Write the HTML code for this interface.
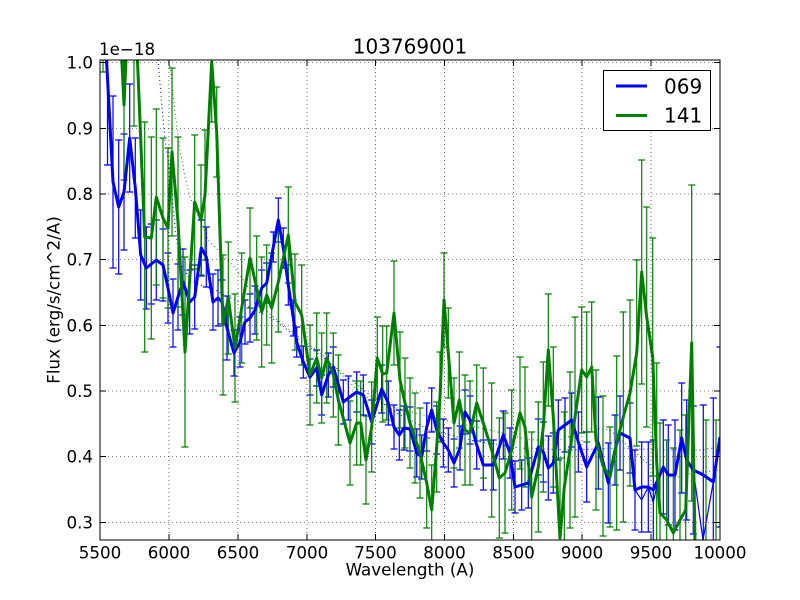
<!DOCTYPE html>
<html>
<head>
<meta charset="utf-8">
<style>
html,body{margin:0;padding:0;background:#fff;width:800px;height:600px;overflow:hidden;}
svg{display:block;overflow:hidden;}
text{font-family:"DejaVu Sans","Liberation Sans",sans-serif;fill:#000;}
</style>
</head>
<body>
<svg width="800" height="600" viewBox="0 0 800 600" xmlns="http://www.w3.org/2000/svg">
<defs>
<clipPath id="ax"><rect x="100" y="60" width="620" height="480"/></clipPath>
</defs>
<rect x="0" y="0" width="800" height="600" fill="#fff"/>
<rect x="100" y="60" width="620" height="480" fill="#fff"/>

<g clip-path="url(#ax)">
<polyline fill="none" stroke="#0000ff" stroke-width="1" stroke-dasharray="1,3" points="158,60 162,107 165,140 170,173 175,227 180,262 190,280 200,285 215,290 235,300 255,310 275,320 300,340 320,355 345,375 370,395 400,415 430,430 470,440 520,448 570,450 620,448 660,450 700,450 720,447"/>
<polyline fill="none" stroke="#008000" stroke-width="1" stroke-dasharray="1,3" points="170,66 175,112 180,150 185,177 190,197 200,220 208,240 223,255 235,268 250,290 265,310 280,322 300,338 323,355 350,383 370,400 397,408 415,413 452,422 490,430 530,440 560,440 592,428 610,430 647,463 673,478 693,473 720,470"/>

<path fill="none" stroke="#0000ff" stroke-width="1.2" d="M107.5,0V165M104,0h7M104,165h7M113,96V268M109.5,96h7M109.5,268h7M118.7,140V274M115.2,140h7M115.2,274h7M124,134V250M120.5,134h7M120.5,250h7M129.7,84V192M126.2,84h7M126.2,192h7M135.3,138V238M131.8,138h7M131.8,238h7M140.7,210V300M137.2,210h7M137.2,300h7M146.3,227V309M142.8,227h7M142.8,309h7M151.3,224V304M147.8,224h7M147.8,304h7M156.3,220V300M152.8,220h7M152.8,300h7M163,229V301M159.5,229h7M159.5,301h7M168,253V323M164.5,253h7M164.5,323h7M173,279V347M169.5,279h7M169.5,347h7M178,264V330M174.5,264h7M174.5,330h7M183,249V315M179.5,249h7M179.5,315h7M189.7,270V334M186.2,270h7M186.2,334h7M194.7,265V329M191.2,265h7M191.2,329h7M201.3,220V276M197.8,220h7M197.8,276h7M206.3,227V287M202.8,227h7M202.8,287h7M213,274V330M209.5,274h7M209.5,330h7M218,270V326M214.5,270h7M214.5,326h7M222,280V324M218.5,280h7M218.5,324h7M227,296V360M223.5,296h7M223.5,360h7M234,330V376M230.5,330h7M230.5,376h7M240,317V367M236.5,317h7M236.5,367h7M245,300V344M241.5,300h7M241.5,344h7M250,294V342M246.5,294h7M246.5,342h7M255,286V334M251.5,286h7M251.5,334h7M261.7,270V306M258.2,270h7M258.2,306h7M266.7,263V303M263.2,263h7M263.2,303h7M273.3,232V262M269.8,232h7M269.8,262h7M278.3,198V242M274.8,198h7M274.8,242h7M283.3,228V268M279.8,228h7M279.8,268h7M288.3,265V305M284.8,265h7M284.8,305h7M293.3,300V336M289.8,300h7M289.8,336h7M296.7,327V357M293.2,327h7M293.2,357h7M303.3,346V378M299.8,346h7M299.8,378h7M310,359V395M306.5,359h7M306.5,395h7M316.7,350V386M313.2,350h7M313.2,386h7M321.7,375V415M318.2,375h7M318.2,415h7M328.3,353V397M324.8,353h7M324.8,397h7M333.3,347V387M329.8,347h7M329.8,387h7M343.3,380V424M339.8,380h7M339.8,424h7M348.3,376V420M344.8,376h7M344.8,420h7M356.7,372V412M353.2,372h7M353.2,412h7M363.3,375V415M359.8,375h7M359.8,415h7M371.7,400V444M368.2,400h7M368.2,444h7M381.7,365V413M378.2,365h7M378.2,413h7M388.3,381V425M384.8,381h7M384.8,425h7M394,405V449M390.5,405h7M390.5,449h7M399.3,410V460M395.8,410h7M395.8,460h7M404,406V450M400.5,406h7M400.5,450h7M410,407V451M406.5,407h7M406.5,451h7M416.7,429V477M413.2,429h7M413.2,477h7M421.7,435V479M418.2,435h7M418.2,479h7M426.7,403V451M423.2,403h7M423.2,451h7M431.7,388V432M428.2,388h7M428.2,432h7M436.7,406V454M433.2,406h7M433.2,454h7M443.3,419V467M439.8,419h7M439.8,467h7M448.3,428V472M444.8,428h7M444.8,472h7M454,439V487M450.5,439h7M450.5,487h7M460,426V470M456.5,426h7M456.5,470h7M465,390V434M461.5,390h7M461.5,434h7M470,396V444M466.5,396h7M466.5,444h7M476.7,421V469M473.2,421h7M473.2,469h7M483.3,440V490M479.8,440h7M479.8,490h7M493.3,440V490M489.8,440h7M489.8,490h7M503.3,411V459M499.8,411h7M499.8,459h7M510,428V478M506.5,428h7M506.5,478h7M515,461V513M511.5,461h7M511.5,513h7M521.7,460V510M518.2,460h7M518.2,510h7M528.3,458V508M524.8,458h7M524.8,508h7M538.3,419V475M534.8,419h7M534.8,475h7M543.3,422V482M539.8,422h7M539.8,482h7M548.3,436V500M544.8,436h7M544.8,500h7M553.3,433V493M549.8,433h7M549.8,493h7M558.3,400V460M554.8,400h7M554.8,460h7M565,398V452M561.5,398h7M561.5,452h7M571.7,393V447M568.2,393h7M568.2,447h7M578.3,412V472M574.8,412h7M574.8,472h7M586.7,432V502M583.2,432h7M583.2,502h7M598.3,397V489M594.8,397h7M594.8,489h7M608.3,443V523M604.8,443h7M604.8,523h7M615,415V485M611.5,415h7M611.5,485h7M620,396V470M616.5,396h7M616.5,470h7M630,403V473M626.5,403h7M626.5,473h7M635,450V530M631.5,450h7M631.5,530h7M641.7,442V532M638.2,442h7M638.2,532h7M648.3,442V532M644.8,442h7M644.8,532h7M653.3,440V540M649.8,440h7M649.8,540h7M663.3,420V514M659.8,420h7M659.8,514h7M668.3,425V525M664.8,425h7M664.8,525h7M675,420V530M671.5,420h7M671.5,530h7M681.7,383V493M678.2,383h7M678.2,493h7M686.7,400V520M683.2,400h7M683.2,520h7M693.3,406V534M689.8,406h7M689.8,534h7M703.3,405V545M699.8,405h7M699.8,545h7M713.3,398V560M709.8,398h7M709.8,560h7M720,347V527M716.5,347h7M716.5,527h7"/>

<path fill="none" stroke="#008000" stroke-width="1.2" d="M103,0V72M99.5,72h7M124,30V180M120.5,30h7M120.5,180h7M134,0V126M130.5,126h7M144.7,122V352M141.2,122h7M141.2,352h7M151.3,137V339M147.8,137h7M147.8,339h7M156.3,109V285M152.8,109h7M152.8,285h7M163,138V298M159.5,138h7M159.5,298h7M168,148V308M164.5,148h7M164.5,308h7M172,68V236M168.5,68h7M168.5,236h7M178,137V307M174.5,137h7M174.5,307h7M185,257V447M181.5,257h7M181.5,447h7M194.7,135V269M191.2,135h7M191.2,269h7M201,165V275M197.5,165h7M197.5,275h7M205,130V260M201.5,130h7M201.5,260h7M211.7,2V122M208.2,2h7M208.2,122h7M216.7,87V177M213.2,87h7M213.2,177h7M223,255V395M219.5,255h7M219.5,395h7M228.3,242V354M224.8,242h7M224.8,354h7M235,294V402M231.5,294h7M231.5,402h7M241.7,253V363M238.2,253h7M238.2,363h7M250,208V308M246.5,208h7M246.5,308h7M256.7,236V340M253.2,236h7M253.2,340h7M261.7,257V367M258.2,257h7M258.2,367h7M266.7,245V345M263.2,245h7M263.2,345h7M271.7,253V363M268.2,253h7M268.2,363h7M278.3,232V332M274.8,232h7M274.8,332h7M288.3,187V283M284.8,187h7M284.8,283h7M295,254V350M291.5,254h7M291.5,350h7M301.7,265V365M298.2,265h7M298.2,365h7M310,325V425M306.5,325h7M306.5,425h7M316.7,313V403M313.2,313h7M313.2,403h7M321.7,333V423M318.2,333h7M318.2,423h7M326.7,313V403M323.2,313h7M323.2,403h7M333.3,333V417M329.8,333h7M329.8,417h7M338.3,355V445M334.8,355h7M334.8,445h7M350,401V485M346.5,401h7M346.5,485h7M356.7,381V465M353.2,381h7M353.2,465h7M360.7,381V465M357.2,381h7M357.2,465h7M366,416V504M362.5,416h7M362.5,504h7M371.7,382V472M368.2,382h7M368.2,472h7M377.3,317V399M373.8,317h7M373.8,399h7M382.7,326V422M379.2,326h7M379.2,422h7M386.7,326V420M383.2,326h7M383.2,420h7M394,261V365M390.5,261h7M390.5,365h7M400,332V428M396.5,332h7M396.5,428h7M405,358V448M401.5,358h7M401.5,448h7M410,378V468M406.5,378h7M406.5,468h7M415,393V483M411.5,393h7M411.5,483h7M420,408V498M416.5,408h7M416.5,498h7M426.7,438V528M423.2,438h7M423.2,528h7M431.7,465V555M428.2,465h7M428.2,555h7M436.7,402V492M433.2,402h7M433.2,492h7M440,352V442M436.5,352h7M436.5,442h7M444,253V347M440.5,253h7M440.5,347h7M448.3,308V398M444.8,308h7M444.8,398h7M454,378V468M450.5,378h7M450.5,468h7M459.3,352V448M455.8,352h7M455.8,448h7M465,375V485M461.5,375h7M461.5,485h7M470,381V485M466.5,381h7M466.5,485h7M476.7,365V441M473.2,365h7M473.2,441h7M483.3,368V478M479.8,368h7M479.8,478h7M491.7,383V517M488.2,383h7M488.2,517h7M499.3,418V538M495.8,418h7M495.8,538h7M505,413V533M501.5,413h7M501.5,533h7M511.7,390V510M508.2,390h7M508.2,510h7M520,357V469M516.5,357h7M516.5,469h7M525,367V487M521.5,367h7M521.5,487h7M531.7,432V560M528.2,432h7M538.3,402V532M534.8,402h7M534.8,532h7M543.3,362V492M539.8,362h7M539.8,492h7M548.3,294V406M544.8,294h7M544.8,406h7M553.3,347V487M549.8,347h7M549.8,487h7M560,458V560M556.5,458h7M564.3,412V560M560.8,412h7M570,372V528M566.5,372h7M566.5,528h7M575,317V517M571.5,317h7M571.5,517h7M581.7,307V433M578.2,307h7M578.2,433h7M586.7,312V442M583.2,312h7M583.2,442h7M591.7,302V432M588.2,302h7M588.2,432h7M596,370V510M592.5,370h7M592.5,510h7M603,396V536M599.5,396h7M599.5,536h7M610,427V527M606.5,427h7M606.5,527h7M616.7,356V530M613.2,356h7M613.2,530h7M623.3,312V522M619.8,312h7M619.8,522h7M630,300V486M626.5,300h7M626.5,486h7M636.7,260V446M633.2,260h7M633.2,446h7M641.7,160V384M638.2,160h7M638.2,384h7M646.7,207V427M643.2,207h7M643.2,427h7M652.7,238V476M649.2,238h7M649.2,476h7M656.7,363V560M653.2,363h7M660,423V560M656.5,423h7M666.7,440V560M663.2,440h7M673.3,448V560M669.8,448h7M680,430V560M676.5,430h7M685.7,415V560M682.2,415h7M691.7,185V501M688.2,185h7M688.2,501h7M706,420V560M702.5,420h7M716,420V560M712.5,420h7"/>

<polyline fill="none" stroke="#0000ff" stroke-width="1.2" points="635,490 641.7,500 648.3,487 653.3,502 659,477"/>
<polyline fill="none" stroke="#0000ff" stroke-width="1.2" points="693.3,470 703,540 713.3,482"/>

<path fill="none" stroke="#0000ff" stroke-width="3" stroke-linejoin="round" d="M103.2,0 L107.5,78 L113,182 L118.7,207 L124,192 L129.7,138 L135.3,188 L140.7,255 L146.3,268 L151.3,264 L156.3,260 L163,265 L168,288 L173,313 L178,297 L183,282 L189.7,302 L194.7,297 L201.3,248 L206.3,257 L213,302 L218,298 L222,302 L227,328 L234,353 L240,342 L245,322 L250,318 L255,310 L261.7,288 L266.7,283 L273.3,247 L278.3,220 L283.3,248 L288.3,285 L293.3,318 L296.7,342 L303.3,362 L310,377 L316.7,368 L321.7,395 L328.3,375 L333.3,367 L343.3,402 L348.3,398 L356.7,392 L363.3,395 L371.7,422 L381.7,389 L388.3,403 L394,427 L399.3,435 L404,428 L410,429 L416.7,453 L421.7,457 L426.7,427 L431.7,410 L436.7,430 L443.3,443 L448.3,450 L454,463 L460,448 L465,412 L470,420 L476.7,445 L483.3,465 L493.3,465 L503.3,435 L510,453 L515,487 L521.7,485 L528.3,483 L538.3,447 L543.3,452 L548.3,468 L553.3,463 L558.3,430 L565,425 L571.7,420 L578.3,442 L586.7,467 L598.3,443 L608.3,483 L615,450 L620,433 L630,438 L635,490 L641.7,487 L648.3,487 L653.3,490 L663.3,467 L668.3,475 L675,475 L681.7,438 L686.7,460 L693.3,470 L703.3,475 L713.3,482 L720,437"/>

<path fill="none" stroke="#008000" stroke-width="3" stroke-linejoin="round" d="M100.5,0 L118.96,0 L124,105 L128.67,0 L135.02,0 L144.7,237 L151.3,238 L156.3,197 L163,218 L168,228 L172,152 L178,222 L185,352 L194.7,202 L201,220 L205,195 L211.7,62 L216.7,132 L223,325 L228.3,298 L235,348 L241.7,308 L250,258 L256.7,288 L261.7,312 L266.7,295 L271.7,308 L278.3,282 L288.3,235 L295,302 L301.7,315 L310,375 L316.7,358 L321.7,378 L326.7,358 L333.3,375 L338.3,400 L350,443 L356.7,423 L360.7,423 L366,460 L371.7,427 L377.3,358 L382.7,374 L386.7,373 L394,313 L400,380 L405,403 L410,423 L415,438 L420,453 L426.7,483 L431.7,510 L436.7,447 L440,397 L444,300 L448.3,353 L454,423 L459.3,400 L465,430 L470,433 L476.7,403 L483.3,423 L491.7,450 L499.3,478 L505,473 L511.7,450 L520,413 L525,427 L531.7,497 L538.3,467 L543.3,427 L548.3,350 L553.3,417 L560,538 L564.3,487 L570,450 L575,417 L581.7,370 L586.7,377 L591.7,367 L596,440 L603,466 L610,477 L616.7,443 L623.3,417 L630,393 L636.7,353 L641.7,272 L646.7,317 L652.7,357 L656.7,463 L660,513 L666.7,520 L673.3,533 L680,520 L685.7,510 L691.7,343 L695.3,560 L720,560"/>
</g>

<g stroke="#000" stroke-width="0.6" stroke-dasharray="1,3" fill="none">
<path d="M169,60V540M238,60V540M307,60V540M375.5,60V540M444.5,60V540M513.5,60V540M582,60V540M651,60V540"/>
<path d="M100,62.5H720M100,128.5H720M100,194H720M100,259.5H720M100,325.5H720M100,391H720M100,456.5H720M100,522.5H720"/>
</g>

<rect x="100" y="60" width="620" height="480" fill="none" stroke="#000" stroke-width="1"/>

<g stroke="#000" stroke-width="1" fill="none">
<path d="M100,540v-6M169,540v-6M238,540v-6M307,540v-6M375.5,540v-6M444.5,540v-6M513.5,540v-6M582,540v-6M651,540v-6M720,540v-6"/>
<path d="M100,60v6M169,60v6M238,60v6M307,60v6M375.5,60v6M444.5,60v6M513.5,60v6M582,60v6M651,60v6M720,60v6"/>
<path d="M100,62.5h6M100,128.5h6M100,194h6M100,259.5h6M100,325.5h6M100,391h6M100,456.5h6M100,522.5h6"/>
<path d="M720,62.5h-6M720,128.5h-6M720,194h-6M720,259.5h-6M720,325.5h-6M720,391h-6M720,456.5h-6M720,522.5h-6"/>
</g>

<g font-size="16.7" text-anchor="middle">
<text x="100" y="558.5">5500</text>
<text x="169" y="558.5">6000</text>
<text x="238" y="558.5">6500</text>
<text x="307" y="558.5">7000</text>
<text x="375.5" y="558.5">7500</text>
<text x="444.5" y="558.5">8000</text>
<text x="513.5" y="558.5">8500</text>
<text x="582" y="558.5">9000</text>
<text x="651" y="558.5">9500</text>
<text x="720" y="558.5">10000</text>
</g>

<g font-size="16.7" text-anchor="end">
<text x="93" y="68.5">1.0</text>
<text x="93" y="134.5">0.9</text>
<text x="93" y="200">0.8</text>
<text x="93" y="265.5">0.7</text>
<text x="93" y="331.5">0.6</text>
<text x="93" y="397">0.5</text>
<text x="93" y="462.5">0.4</text>
<text x="93" y="528.5">0.3</text>
</g>

<text x="99" y="55" font-size="16.7">1e−18</text>
<text x="410" y="53.3" font-size="20" text-anchor="middle">103769001</text>
<text x="410" y="575.5" font-size="16.7" text-anchor="middle">Wavelength (A)</text>
<text transform="translate(59.5,300) rotate(-90)" font-size="16.7" text-anchor="middle">Flux (erg/s/cm^2/A)</text>

<rect x="603.5" y="70.5" width="107" height="60" fill="#fff" stroke="#000" stroke-width="1"/>
<line x1="616" y1="86" x2="647" y2="86" stroke="#0000ff" stroke-width="3"/>
<line x1="616" y1="115.5" x2="647" y2="115.5" stroke="#008000" stroke-width="3"/>
<text x="664" y="93.5" font-size="20">069</text>
<text x="664" y="122.5" font-size="20">141</text>
</svg>
</body>
</html>
